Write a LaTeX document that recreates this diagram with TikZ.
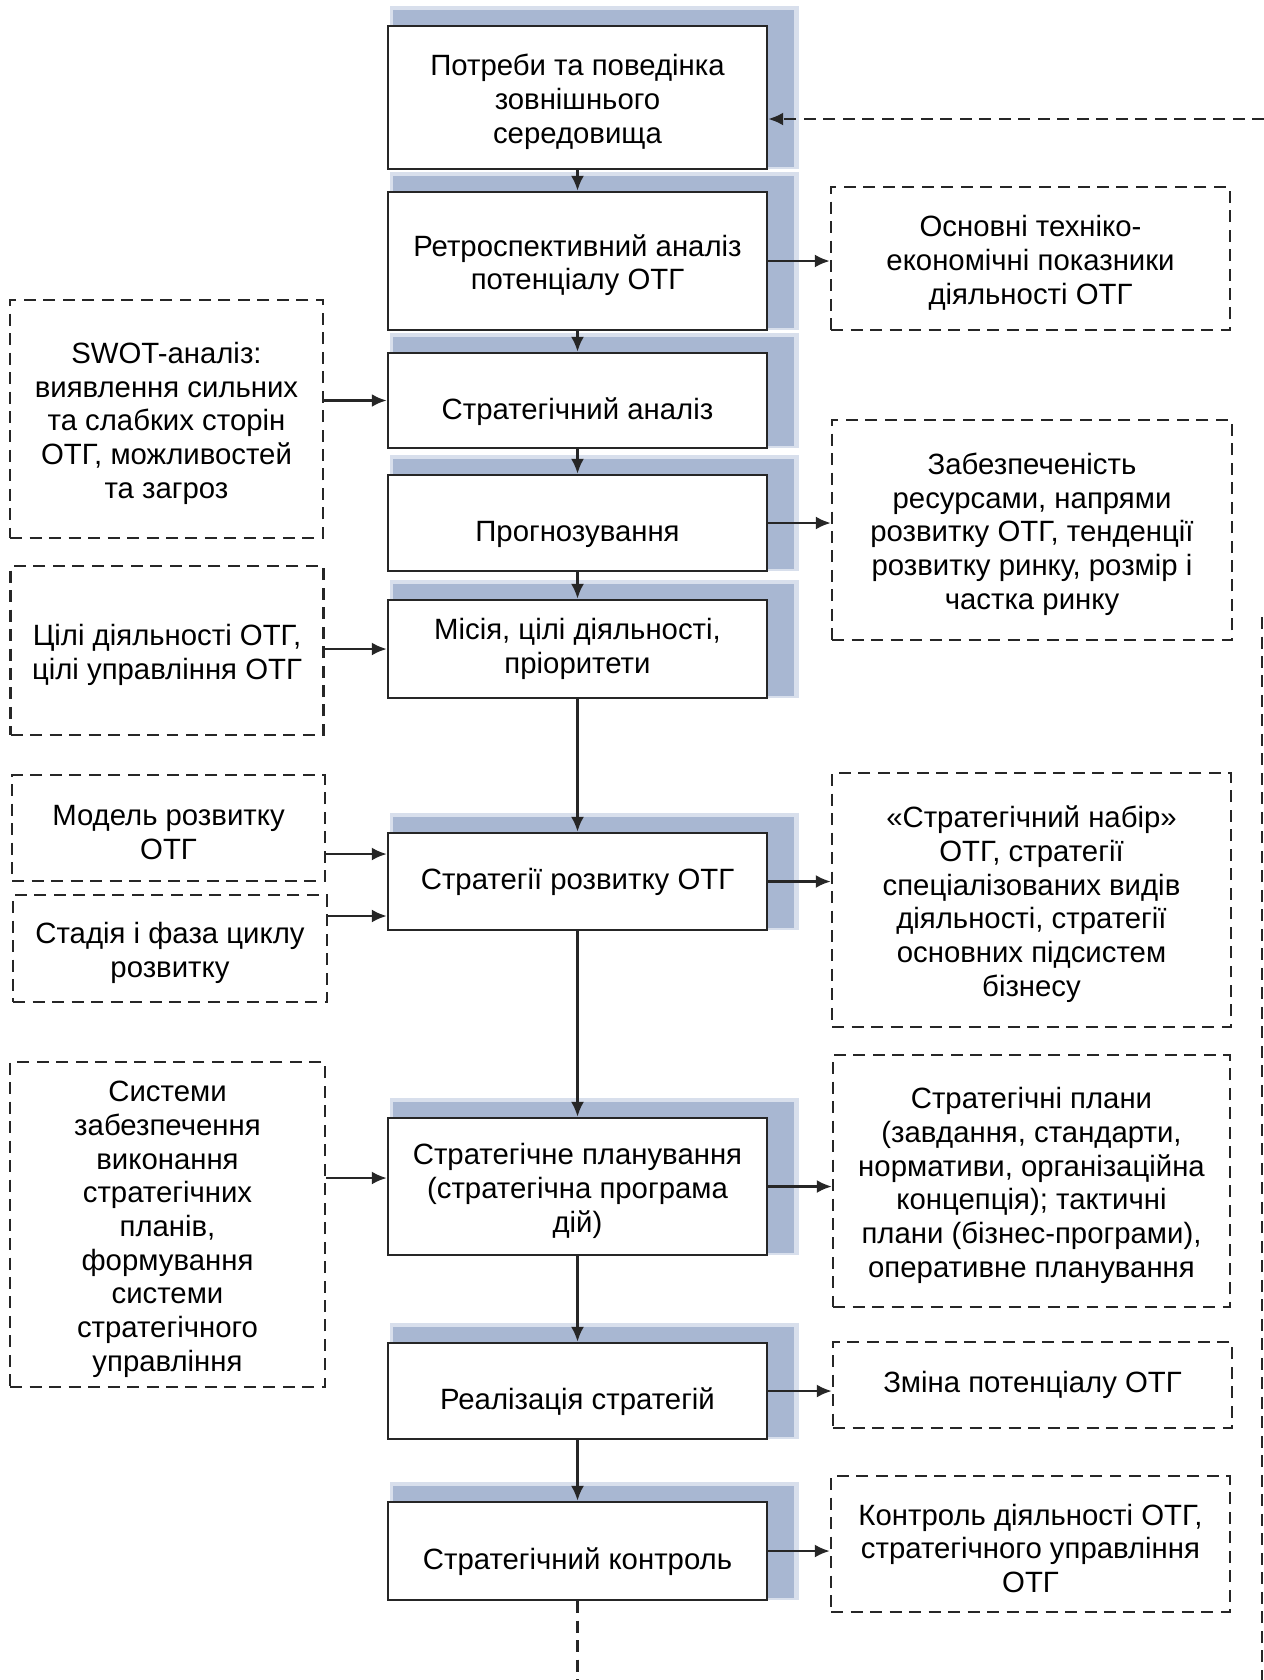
\documentclass[tikz,border=0pt]{standalone}
\usepackage{fontspec}
\setmainfont{Liberation Sans}
\usetikzlibrary{arrows.meta,backgrounds}
\tikzset{>={Latex[length=3mm,width=2.6mm]}}
\definecolor{shadowcol}{RGB}{168,183,210}
\definecolor{shadowfade}{RGB}{216,223,236}
\newcommand{\nodestrut}{\rule{0pt}{0.6cm}}
\tikzset{
  stage/.style={draw=black!85,line width=1.4pt,fill=white,align=center,
                minimum width=7.58cm,inner sep=2pt},
  note/.style={draw=black!85,line width=1.4pt,dash pattern=on 0.24cm off 0.15cm,
               align=center,inner sep=2pt},
  pushdown/.style={text height=0.85cm,text depth=0.1cm},
  flow/.style={->,line width=1.4pt,black!85},
  feedback/.style={line width=1.4pt,black!85,dash pattern=on 0.24cm off 0.15cm}
}

\begin{document}
\begin{tikzpicture}[x=0.02cm,y=-0.02cm,font=\fontsize{16.7}{19.2}\selectfont]
  \useasboundingbox (0,0) rectangle (1264,1680);

  % MAIN CHAIN
  \node[stage,minimum height=2.86cm] (needs) at (577.5,97.5)
    {\nodestrut Потреби та поведінка\\зовнішнього\\середовища};
  \node[stage,minimum height=2.76cm] (retro) at (577.5,261)
    {\nodestrut Ретроспективний аналіз\\потенціалу ОТГ};
  \node[stage,minimum height=1.9cm,pushdown] (analysis) at (577.5,400.5)
    {Стратегічний аналіз};
  \node[stage,minimum height=1.92cm,pushdown] (forecast) at (577.5,523)
    {Прогнозування};
  \node[stage,minimum height=1.96cm] (mission) at (577.5,649)
    {Місія, цілі діяльності,\\пріоритети};
  \node[stage,minimum height=1.94cm] (strat) at (577.5,881.5)
    {Стратегії розвитку ОТГ};
  \node[stage,minimum height=2.74cm] (plan) at (577.5,1186.5)
    {\nodestrut Стратегічне планування\\(стратегічна програма\\дій)};
  \node[stage,minimum height=1.92cm,pushdown] (impl) at (577.5,1391)
    {Реалізація стратегій};
  \node[stage,minimum height=1.96cm,pushdown] (control) at (577.5,1551)
    {Стратегічний контроль};

  % INPUTS
  \node[note,minimum width=6.26cm,minimum height=4.76cm] (swot) at (166.5,419)
    {\nodestrut SWOT-аналіз:\\виявлення сильних\\та слабких сторін\\ОТГ, можливостей\\та загроз};
  \node[note,minimum width=6.26cm,minimum height=3.38cm] (goals) at (167,650.5)
    {\nodestrut Цілі діяльності ОТГ,\\цілі управління ОТГ};
  \node[note,minimum width=6.26cm,minimum height=2.12cm] (model) at (168.5,828)
    {\nodestrut Модель розвитку\\ОТГ};
  \node[note,minimum width=6.28cm,minimum height=2.14cm] (phase) at (170,948.5)
    {\nodestrut Стадія і фаза циклу\\розвитку};
  \node[note,minimum width=6.3cm,minimum height=6.5cm] (support) at (167.5,1224.5)
    {\nodestrut Системи\\забезпечення\\виконання\\стратегічних\\планів,\\формування\\системи\\стратегічного\\управління};

  % OUTPUTS
  \node[note,minimum width=7.98cm,minimum height=2.86cm] (indic) at (1030.5,258.5)
    {\nodestrut Основні техніко-\\економічні показники\\діяльності ОТГ};
  \node[note,minimum width=8cm,minimum height=4.4cm] (resources) at (1032,530)
    {\nodestrut Забезпеченість\\ресурсами, напрями\\розвитку ОТГ, тенденції\\розвитку ринку, розмір і\\частка ринку};
  \node[note,minimum width=7.98cm,minimum height=5.08cm] (set) at (1031.5,900)
    {\nodestrut «Стратегічний набір»\\ОТГ, стратегії\\спеціалізованих видів\\діяльності, стратегії\\основних підсистем\\бізнесу};
  \node[note,minimum width=7.94cm,minimum height=5.04cm] (plans) at (1031.5,1181)
    {\nodestrut Стратегічні плани\\(завдання, стандарти,\\нормативи, організаційна\\концепція); тактичні\\плани (бізнес-програми),\\оперативне планування};
  \node[note,minimum width=7.98cm,minimum height=1.72cm] (change) at (1032.5,1385)
    {Зміна потенціалу ОТГ};
  \node[note,minimum width=7.98cm,minimum height=2.72cm] (monitor) at (1030.5,1544)
    {\nodestrut Контроль діяльності ОТГ,\\стратегічного управління\\ОТГ};

  % SHADOWS
  \begin{scope}[on background layer]
    \foreach \n in {needs,retro,analysis,forecast,mission,strat,plan,impl,control}{
      \fill[shadowfade] ([shift={(3,-19)}]\n.north west) rectangle ([shift={(31,-1)}]\n.south east);
      \fill[shadowcol] ([shift={(6,-15)}]\n.north west) rectangle ([shift={(26,-3)}]\n.south east);
    }
  \end{scope}

  % ARROWS
  \foreach \a/\b in {needs/retro,retro/analysis,analysis/forecast,forecast/mission,
                     mission/strat,strat/plan,plan/impl,impl/control}
    \draw[flow] (\a) -- (\b);

  \foreach \a/\b in {retro/indic,forecast/resources,strat/set,plan/plans,
                     impl/change,control/monitor}
    \draw[flow] (\a.east) -- (\a.east -| \b.west);

  \coordinate (strat-in1) at ([yshift=0.55cm]strat.west);
  \coordinate (strat-in2) at ([yshift=-0.69cm]strat.west);
  \coordinate (plan-in) at ([yshift=0.17cm]plan.west);
  \draw[flow,line width=2.2pt] (swot.east |- analysis.west) -- (analysis.west);
  \draw[flow] (goals.east |- mission.west) -- (mission.west);
  \draw[flow] (model.east |- strat-in1) -- (strat-in1);
  \draw[flow] (phase.east |- strat-in2) -- (strat-in2);
  \draw[flow] (support.east |- plan-in) -- (plan-in);

  % FEEDBACK
  \coordinate (fb-top) at (1264,119);
  \coordinate (fb-right) at (1262,617);
  \coordinate (fb-end) at (1262,1680);
  \coordinate (fb-down) at (580,1680);
  \draw[feedback,->] (fb-top) -- (fb-top -| needs.east);
  \draw[feedback] (fb-right) -- (fb-end);
  \draw[feedback] (control.south) -- (control.south |- fb-down);

\end{tikzpicture}
\end{document}
